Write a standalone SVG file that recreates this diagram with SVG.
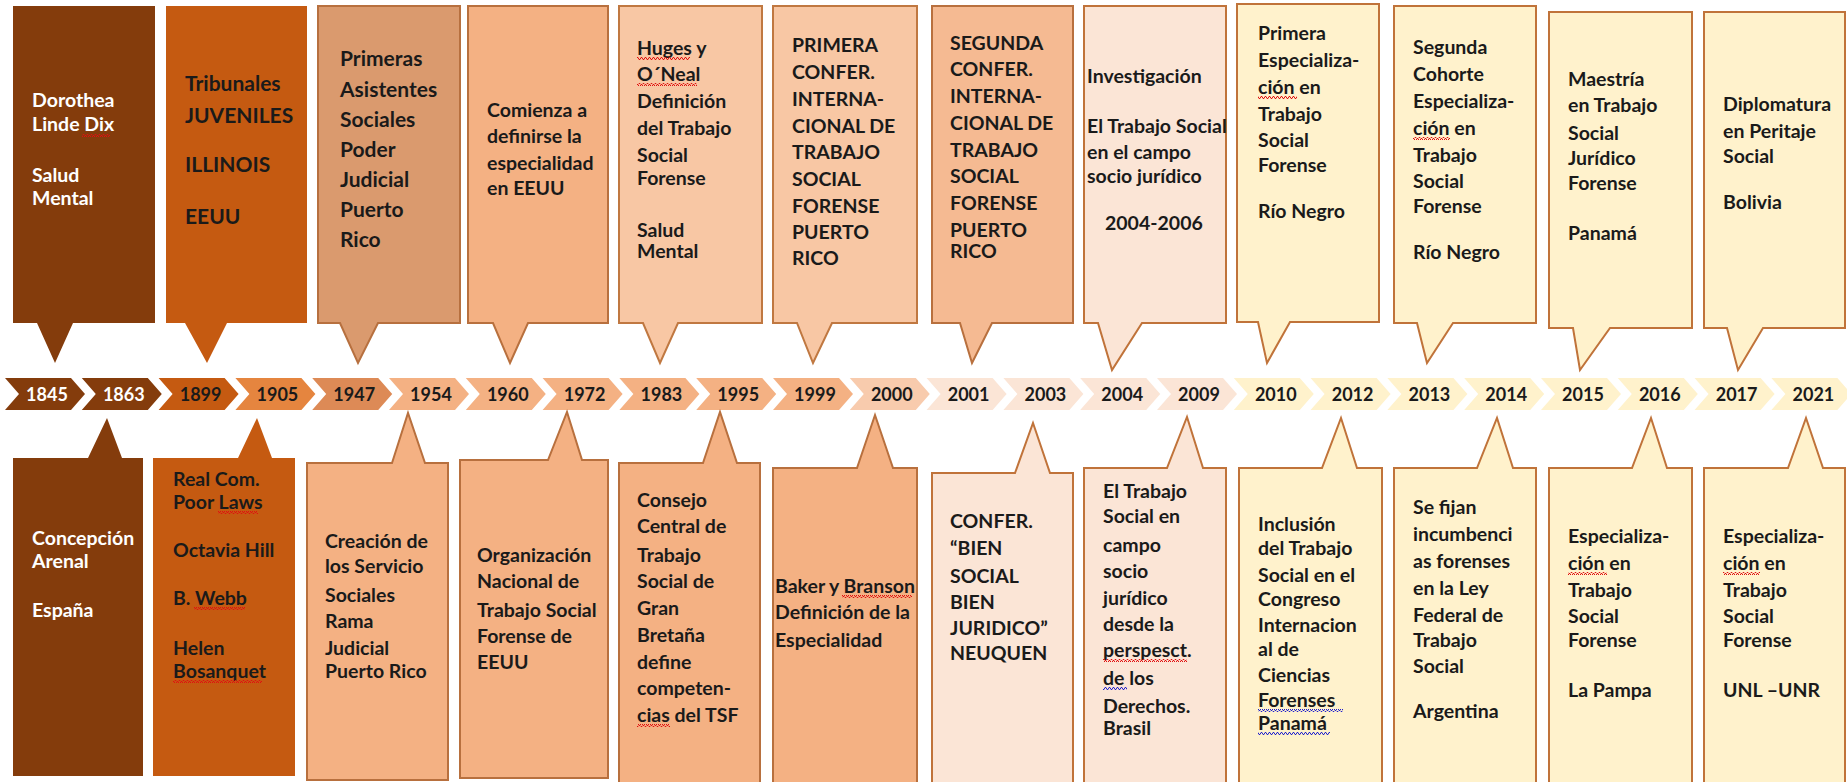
<svg xmlns="http://www.w3.org/2000/svg" width="1847" height="782" viewBox="0 0 1847 782">
<defs>
<style>
text{font-family:Lato,"Liberation Sans",sans-serif;font-weight:bold;fill:#1a1a1a;font-size:19.5px}
.w{fill:#ffffff}
.yr{font-size:18px;text-anchor:middle}
.big{font-size:21px}
.c1{fill:#843C0C}
.c2{fill:#C55A11}
.c3{fill:#DA9A6E;stroke:#B7703F;stroke-width:2}
.c4{fill:#F4B183;stroke:#B8703E;stroke-width:2}
.c5{fill:#F8C7A4;stroke:#C07841;stroke-width:2}
.c7{fill:#F5BA92;stroke:#B8703E;stroke-width:2}
.c8{fill:#FBE5D6;stroke:#C0733A;stroke-width:2}
.c9{fill:#FFF2CC;stroke:#C0733A;stroke-width:2}
.sq{stroke:#e01010;stroke-width:1.3;fill:none}
.sqb{stroke:#2020d0;stroke-width:1.3;fill:none}
</style>
<pattern id="wr" width="4" height="3" patternUnits="userSpaceOnUse"><path d="M0 2.5 L1 0.5 L2 0.5 L3 2.5 L4 2.5" stroke="#e01010" stroke-width="1" fill="none"/></pattern>
<pattern id="wb" width="4" height="3" patternUnits="userSpaceOnUse"><path d="M0 2.5 L1 0.5 L2 0.5 L3 2.5 L4 2.5" stroke="#2222cc" stroke-width="1" fill="none"/></pattern>
</defs>
<rect width="1847" height="782" fill="#ffffff"/>

<g id="timeline">
<polygon points="5,378 71,378 85,394 71,410 5,410 19,394" fill="#843C0C"/>
<polygon points="81.8,378 147.8,378 161.8,394 147.8,410 81.8,410 95.8,394" fill="#843C0C"/>
<polygon points="158.6,378 224.6,378 238.6,394 224.6,410 158.6,410 172.6,394" fill="#C55A11"/>
<polygon points="235.4,378 301.4,378 315.4,394 301.4,410 235.4,410 249.4,394" fill="#E5853F"/>
<polygon points="312.2,378 378.2,378 392.2,394 378.2,410 312.2,410 326.2,394" fill="#DD8A56"/>
<polygon points="389,378 455,378 469,394 455,410 389,410 403,394" fill="#F4B183"/>
<polygon points="465.8,378 531.8,378 545.8,394 531.8,410 465.8,410 479.8,394" fill="#F4B183"/>
<polygon points="542.6,378 608.6,378 622.6,394 608.6,410 542.6,410 556.6,394" fill="#F4B183"/>
<polygon points="619.4,378 685.4,378 699.4,394 685.4,410 619.4,410 633.4,394" fill="#F4B183"/>
<polygon points="696.2,378 762.2,378 776.2,394 762.2,410 696.2,410 710.2,394" fill="#F4B183"/>
<polygon points="773,378 839,378 853,394 839,410 773,410 787,394" fill="#F4B183"/>
<polygon points="849.8,378 915.8,378 929.8,394 915.8,410 849.8,410 863.8,394" fill="#F8CBAD"/>
<polygon points="926.6,378 992.6,378 1006.6,394 992.6,410 926.6,410 940.6,394" fill="#FBE5D6"/>
<polygon points="1003.4,378 1069.4,378 1083.4,394 1069.4,410 1003.4,410 1017.4,394" fill="#FBE5D6"/>
<polygon points="1080.2,378 1146.2,378 1160.2,394 1146.2,410 1080.2,410 1094.2,394" fill="#FBE5D6"/>
<polygon points="1157,378 1223,378 1237,394 1223,410 1157,410 1171,394" fill="#FBE5D6"/>
<polygon points="1233.8,378 1299.8,378 1313.8,394 1299.8,410 1233.8,410 1247.8,394" fill="#FFF2CC"/>
<polygon points="1310.6,378 1376.6,378 1390.6,394 1376.6,410 1310.6,410 1324.6,394" fill="#FFF2CC"/>
<polygon points="1387.4,378 1453.4,378 1467.4,394 1453.4,410 1387.4,410 1401.4,394" fill="#FFF2CC"/>
<polygon points="1464.2,378 1530.2,378 1544.2,394 1530.2,410 1464.2,410 1478.2,394" fill="#FFF2CC"/>
<polygon points="1541,378 1607,378 1621,394 1607,410 1541,410 1555,394" fill="#FFF2CC"/>
<polygon points="1617.8,378 1683.8,378 1697.8,394 1683.8,410 1617.8,410 1631.8,394" fill="#FFF2CC"/>
<polygon points="1694.6,378 1760.6,378 1774.6,394 1760.6,410 1694.6,410 1708.6,394" fill="#FFF2CC"/>
<polygon points="1771.4,378 1837.4,378 1851.4,394 1837.4,410 1771.4,410 1785.4,394" fill="#FFF2CC"/>
<text class="yr w" x="47" y="401">1845</text>
<text class="yr w" x="123.8" y="401">1863</text>
<text class="yr" x="200.6" y="401">1899</text>
<text class="yr" x="277.4" y="401">1905</text>
<text class="yr" x="354.2" y="401">1947</text>
<text class="yr" x="431" y="401">1954</text>
<text class="yr" x="507.8" y="401">1960</text>
<text class="yr" x="584.6" y="401">1972</text>
<text class="yr" x="661.4" y="401">1983</text>
<text class="yr" x="738.2" y="401">1995</text>
<text class="yr" x="815" y="401">1999</text>
<text class="yr" x="891.8" y="401">2000</text>
<text class="yr" x="968.6" y="401">2001</text>
<text class="yr" x="1045.4" y="401">2003</text>
<text class="yr" x="1122.2" y="401">2004</text>
<text class="yr" x="1199" y="401">2009</text>
<text class="yr" x="1275.8" y="401">2010</text>
<text class="yr" x="1352.6" y="401">2012</text>
<text class="yr" x="1429.4" y="401">2013</text>
<text class="yr" x="1506.2" y="401">2014</text>
<text class="yr" x="1583" y="401">2015</text>
<text class="yr" x="1659.8" y="401">2016</text>
<text class="yr" x="1736.6" y="401">2017</text>
<text class="yr" x="1813.4" y="401">2021</text>
</g>

<g id="connectors"></g>

<g id="t1845">
<path class="c1" d="M13 6 H155 V323 H73 L55 363 L37 323 H13 Z"/>
<text class="w"><tspan x="32" y="107">Dorothea</tspan><tspan x="32" y="131">Linde Dix</tspan><tspan x="32" y="182">Salud</tspan><tspan x="32" y="205">Mental</tspan></text>
<rect x="82" y="134" width="28" height="3" fill="url(#wr)"/>
</g>
<g id="t1899">
<path class="c2" d="M166 6 H307 V323 H227 L207 363 L185 323 H166 Z"/>
<text class="big"><tspan x="185" y="91">Tribunales</tspan><tspan x="185" y="123">JUVENILES</tspan><tspan x="185" y="172">ILLINOIS</tspan><tspan x="185" y="224">EEUU</tspan></text>
</g>
<g id="t1947">
<path class="c3" d="M318 6 H460 V323 H378 L358 363 L340 323 H318 Z"/>
<text class="big"><tspan x="340" y="66">Primeras</tspan><tspan x="340" y="97">Asistentes</tspan><tspan x="340" y="127">Sociales</tspan><tspan x="340" y="157">Poder</tspan><tspan x="340" y="187">Judicial</tspan><tspan x="340" y="217">Puerto</tspan><tspan x="340" y="247">Rico</tspan></text>
</g>
<g id="t1960">
<path class="c4" d="M468 6 H608 V323 H528 L510 363 L493 323 H468 Z"/>
<text><tspan x="487" y="117">Comienza a</tspan><tspan x="487" y="143">definirse la</tspan><tspan x="487" y="170">especialidad</tspan><tspan x="487" y="195">en EEUU</tspan></text>
</g>
<g id="t1983">
<path class="c5" d="M619 6 H762 V323 H678 L660 363 L643 323 H619 Z"/>
<text><tspan x="637" y="55">Huges y</tspan><tspan x="637" y="81">O´Neal</tspan><tspan x="637" y="108">Definición</tspan><tspan x="637" y="135">del Trabajo</tspan><tspan x="637" y="162">Social</tspan><tspan x="637" y="185">Forense</tspan><tspan x="637" y="237">Salud</tspan><tspan x="637" y="258">Mental</tspan></text>
<rect x="637" y="57" width="53" height="3" fill="url(#wr)"/>
<rect x="637" y="83" width="60" height="3" fill="url(#wr)"/>
</g>
<g id="t1999">
<path class="c5" d="M773 6 H917 V323 H832 L813 363 L797 323 H773 Z"/>
<text><tspan x="792" y="52">PRIMERA</tspan><tspan x="792" y="79">CONFER.</tspan><tspan x="792" y="106">INTERNA-</tspan><tspan x="792" y="133">CIONAL DE</tspan><tspan x="792" y="159">TRABAJO</tspan><tspan x="792" y="186">SOCIAL</tspan><tspan x="792" y="213">FORENSE</tspan><tspan x="792" y="239">PUERTO</tspan><tspan x="792" y="265">RICO</tspan></text>
</g>
<g id="t2001">
<path class="c7" d="M932 6 H1073 V323 H992 L972 363 L960 323 H932 Z"/>
<text><tspan x="950" y="50">SEGUNDA</tspan><tspan x="950" y="76">CONFER.</tspan><tspan x="950" y="103">INTERNA-</tspan><tspan x="950" y="130">CIONAL DE</tspan><tspan x="950" y="157">TRABAJO</tspan><tspan x="950" y="183">SOCIAL</tspan><tspan x="950" y="210">FORENSE</tspan><tspan x="950" y="237">PUERTO</tspan><tspan x="950" y="258">RICO</tspan></text>
</g>
<g id="t2004">
<path class="c8" d="M1084 6 H1226 V323 H1142 L1112 370 L1098 323 H1084 Z"/>
<text><tspan x="1087" y="83">Investigación</tspan><tspan x="1087" y="133">El Trabajo Social</tspan><tspan x="1087" y="159">en el campo</tspan><tspan x="1087" y="183">socio jurídico</tspan><tspan x="1105" y="230">2004-2006</tspan></text>
</g>
<g id="t2010">
<path class="c9" d="M1237 4 H1379 V322 H1290 L1267 363 L1258 322 H1237 Z"/>
<text><tspan x="1258" y="40">Primera</tspan><tspan x="1258" y="67">Especializa-</tspan><tspan x="1258" y="94">ción en</tspan><tspan x="1258" y="121">Trabajo</tspan><tspan x="1258" y="147">Social</tspan><tspan x="1258" y="172">Forense</tspan><tspan x="1258" y="218">Río Negro</tspan></text>
<rect x="1258" y="96" width="39" height="3" fill="url(#wr)"/>
</g>
<g id="t2013">
<path class="c9" d="M1394 6 H1536 V323 H1453 L1427 363 L1417 323 H1394 Z"/>
<text><tspan x="1413" y="54">Segunda</tspan><tspan x="1413" y="81">Cohorte</tspan><tspan x="1413" y="108">Especializa-</tspan><tspan x="1413" y="135">ción en</tspan><tspan x="1413" y="162">Trabajo</tspan><tspan x="1413" y="188">Social</tspan><tspan x="1413" y="213">Forense</tspan><tspan x="1413" y="259">Río Negro</tspan></text>
<rect x="1413" y="137" width="37" height="3" fill="url(#wr)"/>
</g>
<g id="t2015">
<path class="c9" d="M1549 12 H1692 V328 H1610 L1580 370 L1573 328 H1549 Z"/>
<text><tspan x="1568" y="86">Maestría</tspan><tspan x="1568" y="112">en Trabajo</tspan><tspan x="1568" y="140">Social</tspan><tspan x="1568" y="165">Jurídico</tspan><tspan x="1568" y="190">Forense</tspan><tspan x="1568" y="240">Panamá</tspan></text>
</g>
<g id="t2017">
<path class="c9" d="M1704 12 H1845 V328 H1763 L1738 370 L1727 328 H1704 Z"/>
<text><tspan x="1723" y="111">Diplomatura</tspan><tspan x="1723" y="138">en Peritaje</tspan><tspan x="1723" y="163">Social</tspan><tspan x="1723" y="209">Bolivia</tspan></text>
</g>

<g id="b1863">
<path class="c1" d="M13 458 H88 L107 418 L122 458 H143 V776 H13 Z"/>
<text class="w"><tspan x="32" y="545">Concepción</tspan><tspan x="32" y="568">Arenal</tspan><tspan x="32" y="617">España</tspan></text>
</g>
<g id="b1905">
<path class="c2" d="M153 458 H238 L257 418 L272 458 H295 V776 H153 Z"/>
<text><tspan x="173" y="486">Real Com.</tspan><tspan x="173" y="509">Poor Laws</tspan><tspan x="173" y="557">Octavia Hill</tspan><tspan x="173" y="605">B. Webb</tspan><tspan x="173" y="655">Helen</tspan><tspan x="173" y="678">Bosanquet</tspan></text>
<rect x="218" y="511" width="40" height="3" fill="url(#wr)"/>
<rect x="194" y="607" width="51" height="3" fill="url(#wr)"/>
<rect x="173" y="680" width="89" height="3" fill="url(#wr)"/>
</g>
<g id="b1954">
<path class="c4" d="M307 463 H392 L408 413 L425 463 H448 V780 H307 Z"/>
<text><tspan x="325" y="548">Creación de</tspan><tspan x="325" y="573">los Servicio</tspan><tspan x="325" y="602">Sociales</tspan><tspan x="325" y="628">Rama</tspan><tspan x="325" y="655">Judicial</tspan><tspan x="325" y="678">Puerto Rico</tspan></text>
</g>
<g id="b1972">
<path class="c4" d="M460 460 H548 L567 412 L582 460 H608 V778 H460 Z"/>
<text><tspan x="477" y="562">Organización</tspan><tspan x="477" y="588">Nacional de</tspan><tspan x="477" y="617">Trabajo Social</tspan><tspan x="477" y="643">Forense de</tspan><tspan x="477" y="669">EEUU</tspan></text>
</g>
<g id="b1995">
<path class="c4" d="M619 463 H703 L720 412 L737 463 H760 V790 H619 Z"/>
<text><tspan x="637" y="507">Consejo</tspan><tspan x="637" y="533">Central de</tspan><tspan x="637" y="562">Trabajo</tspan><tspan x="637" y="588">Social de</tspan><tspan x="637" y="615">Gran</tspan><tspan x="637" y="642">Bretaña</tspan><tspan x="637" y="669">define</tspan><tspan x="637" y="695">competen-</tspan><tspan x="637" y="722">cias del TSF</tspan></text>
<rect x="637" y="724" width="33" height="3" fill="url(#wr)"/>
</g>
<g id="b2000">
<path class="c4" d="M773 468 H857 L875 415 L893 468 H917 V790 H773 Z"/>
<text><tspan x="775" y="593">Baker y Branson</tspan><tspan x="775" y="619">Definición de la</tspan><tspan x="775" y="647">Especialidad</tspan></text>
<rect x="842" y="595" width="70" height="3" fill="url(#wr)"/>
</g>
<g id="b2003">
<path class="c8" d="M932 473 H1015 L1033 423 L1050 473 H1073 V790 H932 Z"/>
<text><tspan x="950" y="528">CONFER.</tspan><tspan x="950" y="555">“BIEN</tspan><tspan x="950" y="583">SOCIAL</tspan><tspan x="950" y="609">BIEN</tspan><tspan x="950" y="635">JURIDICO”</tspan><tspan x="950" y="660">NEUQUEN</tspan></text>
</g>
<g id="b2009">
<path class="c8" d="M1084 468 H1167 L1187 417 L1203 468 H1226 V790 H1084 Z"/>
<text><tspan x="1103" y="498">El Trabajo</tspan><tspan x="1103" y="523">Social en</tspan><tspan x="1103" y="552">campo</tspan><tspan x="1103" y="578">socio</tspan><tspan x="1103" y="605">jurídico</tspan><tspan x="1103" y="631">desde la</tspan><tspan x="1103" y="657">perspesct.</tspan><tspan x="1103" y="685">de los</tspan><tspan x="1103" y="713">Derechos.</tspan><tspan x="1103" y="735">Brasil</tspan></text>
<rect x="1103" y="659" width="84" height="3" fill="url(#wr)"/>
<rect x="1103" y="687" width="24" height="3" fill="url(#wb)"/>
</g>
<g id="b2012">
<path class="c9" d="M1239 468 H1322 L1341 418 L1357 468 H1382 V790 H1239 Z"/>
<text><tspan x="1258" y="531">Inclusión</tspan><tspan x="1258" y="555">del Trabajo</tspan><tspan x="1258" y="582">Social en el</tspan><tspan x="1258" y="606">Congreso</tspan><tspan x="1258" y="632">Internacion</tspan><tspan x="1258" y="656">al de</tspan><tspan x="1258" y="682">Ciencias</tspan><tspan x="1258" y="707">Forenses</tspan><tspan x="1258" y="730">Panamá</tspan></text>
<rect x="1258" y="709" width="85" height="3" fill="url(#wb)"/>
<rect x="1258" y="732" width="72" height="3" fill="url(#wb)"/>
</g>
<g id="b2014">
<path class="c9" d="M1394 468 H1477 L1497 418 L1513 468 H1536 V790 H1394 Z"/>
<text><tspan x="1413" y="514">Se fijan</tspan><tspan x="1413" y="541">incumbenci</tspan><tspan x="1413" y="568">as forenses</tspan><tspan x="1413" y="595">en la Ley</tspan><tspan x="1413" y="622">Federal de</tspan><tspan x="1413" y="647">Trabajo</tspan><tspan x="1413" y="673">Social</tspan><tspan x="1413" y="718">Argentina</tspan></text>
</g>
<g id="b2016">
<path class="c9" d="M1549 468 H1632 L1651 418 L1667 468 H1692 V790 H1549 Z"/>
<text><tspan x="1568" y="543">Especializa-</tspan><tspan x="1568" y="570">ción en</tspan><tspan x="1568" y="597">Trabajo</tspan><tspan x="1568" y="623">Social</tspan><tspan x="1568" y="647">Forense</tspan><tspan x="1568" y="697">La Pampa</tspan></text>
<rect x="1568" y="572" width="39" height="3" fill="url(#wr)"/>
</g>
<g id="b2021">
<path class="c9" d="M1704 468 H1788 L1806 418 L1823 468 H1845 V790 H1704 Z"/>
<text><tspan x="1723" y="543">Especializa-</tspan><tspan x="1723" y="570">ción en</tspan><tspan x="1723" y="597">Trabajo</tspan><tspan x="1723" y="623">Social</tspan><tspan x="1723" y="647">Forense</tspan><tspan x="1723" y="697">UNL –UNR</tspan></text>
<rect x="1723" y="572" width="37" height="3" fill="url(#wr)"/>
</g>
</svg>
